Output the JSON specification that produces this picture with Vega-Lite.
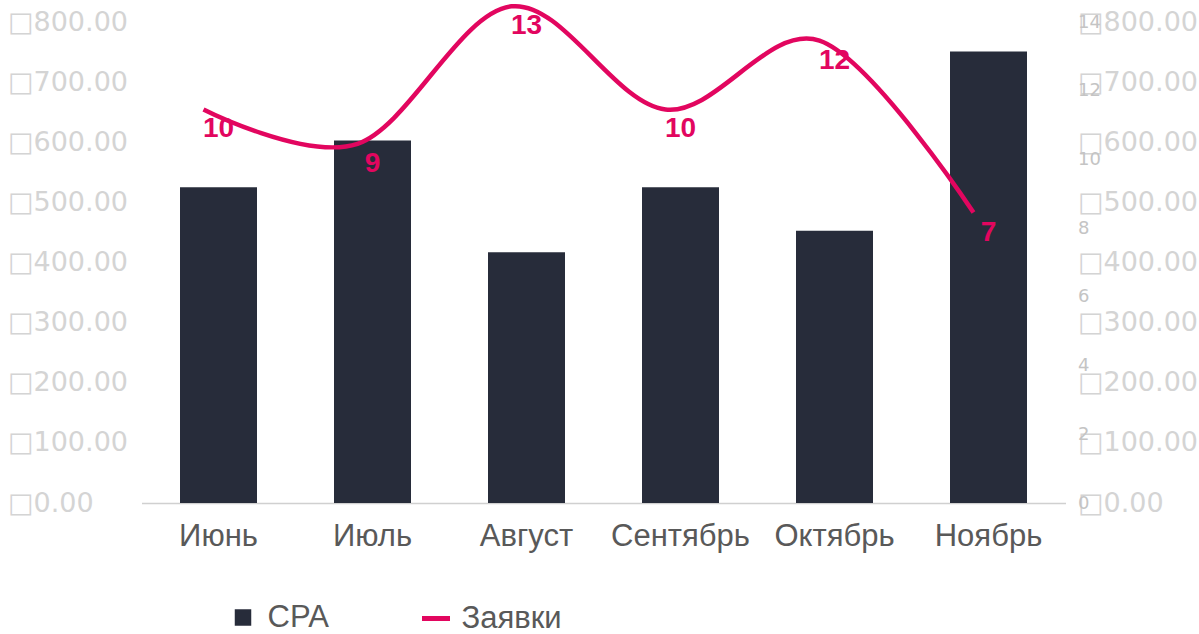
{
  "$schema": "https://vega.github.io/schema/vega-lite/v6.json",
  "width": 924,
  "height": 481,
  "autosize": {"type": "none"},
  "padding": {"left": 141.5, "top": 22, "right": 133.5, "bottom": 131},
  "background": "white",
  "config": {"view": {"stroke": null}, "font": "Liberation Sans"},
  "data": {
    "values": [
      {"month": "Июнь", "CPA": 525, "Заявки": 10},
      {"month": "Июль", "CPA": 603, "Заявки": 9},
      {"month": "Август", "CPA": 417, "Заявки": 13},
      {"month": "Сентябрь", "CPA": 525, "Заявки": 10},
      {"month": "Октябрь", "CPA": 453, "Заявки": 12},
      {"month": "Ноябрь", "CPA": 751, "Заявки": 7}
    ]
  },
  "encoding": {
    "x": {
      "field": "month",
      "type": "nominal",
      "sort": null,
      "scale": {"paddingInner": 0.5, "paddingOuter": 0.25},
      "axis": {
        "title": null,
        "labelAngle": 0,
        "labelFont": "Liberation Sans",
        "labelFontSize": 31,
        "labelColor": "#595959",
        "labelPadding": 18,
        "ticks": false,
        "tickSize": 0,
        "domainColor": "#d0d0d0",
        "domainWidth": 1.5
      }
    }
  },
  "layer": [
    {
      "mark": {"type": "bar"},
      "encoding": {
        "y": {
          "field": "CPA",
          "type": "quantitative",
          "scale": {"domain": [0, 800], "nice": false},
          "axis": {
            "orient": "left",
            "title": null,
            "grid": false,
            "domain": false,
            "ticks": false,
            "tickSize": 0,
            "values": [0, 100, 200, 300, 400, 500, 600, 700, 800],
            "labelExpr": "'□' + format(datum.value, '.2f')",
            "labelFont": "DejaVu Sans",
            "labelFontSize": 27,
            "labelColor": "#d4d4d4",
            "labelAlign": "left",
            "labelPadding": 134,
            "labelBaseline": "middle"
          }
        },
        "fill": {
          "datum": "CPA",
          "scale": {"range": ["#272c3a"]},
          "legend": {
            "title": null,
            "orient": "none",
            "legendX": 86,
            "legendY": 580,
            "padding": 0,
            "symbolType": "square",
            "symbolSize": 272,
            "symbolStrokeWidth": 0,
            "labelFont": "Liberation Sans",
            "labelFontSize": 31,
            "labelColor": "#595959",
            "labelOffset": 9
          }
        }
      }
    },
    {
      "mark": {"type": "bar", "opacity": 0},
      "encoding": {
        "y": {
          "field": "CPA",
          "type": "quantitative",
          "scale": {"domain": [0, 800], "nice": false},
          "axis": {
            "orient": "right",
            "title": null,
            "grid": false,
            "domain": false,
            "ticks": false,
            "tickSize": 0,
            "values": [0, 100, 200, 300, 400, 500, 600, 700, 800],
            "labelExpr": "'□' + format(datum.value, '.2f')",
            "labelFont": "DejaVu Sans",
            "labelFontSize": 27,
            "labelColor": "#d4d4d4",
            "labelAlign": "left",
            "labelPadding": 12,
            "labelBaseline": "middle"
          }
        }
      }
    },
    {
      "encoding": {
        "y": {
          "field": "Заявки",
          "type": "quantitative",
          "scale": {"domain": [0, 14], "nice": false},
          "axis": {
            "orient": "right",
            "title": null,
            "grid": false,
            "domain": false,
            "ticks": false,
            "tickSize": 0,
            "values": [0, 2, 4, 6, 8, 10, 12, 14],
            "labelFont": "DejaVu Sans",
            "labelFontSize": 18,
            "labelColor": "#c4c4c4",
            "labelAlign": "left",
            "labelPadding": 12,
            "labelBaseline": "middle"
          }
        }
      },
      "layer": [
        {
          "mark": {
            "type": "line",
            "interpolate": "cardinal",
            "strokeWidth": 4.5,
            "xOffset": -15,
            "yOffset": -50
          },
          "encoding": {
            "stroke": {
              "datum": "Заявки",
              "scale": {"range": ["#e2065f"]},
              "legend": {
                "title": null,
                "orient": "none",
                "legendX": 278,
                "legendY": 580,
                "padding": 0,
                "symbolType": "stroke",
                "symbolSize": 784,
                "symbolStrokeWidth": 5,
                "labelFont": "Liberation Sans",
                "labelFontSize": 31,
                "labelColor": "#595959",
                "labelOffset": 9
              }
            }
          }
        },
        {
          "mark": {
            "type": "text",
            "font": "Liberation Sans",
            "fontWeight": "bold",
            "fontSize": 28,
            "color": "#e2065f",
            "baseline": "middle",
            "dy": -30
          },
          "encoding": {"text": {"field": "Заявки", "type": "quantitative"}}
        }
      ]
    }
  ],
  "resolve": {"scale": {"y": "independent"}}
}
